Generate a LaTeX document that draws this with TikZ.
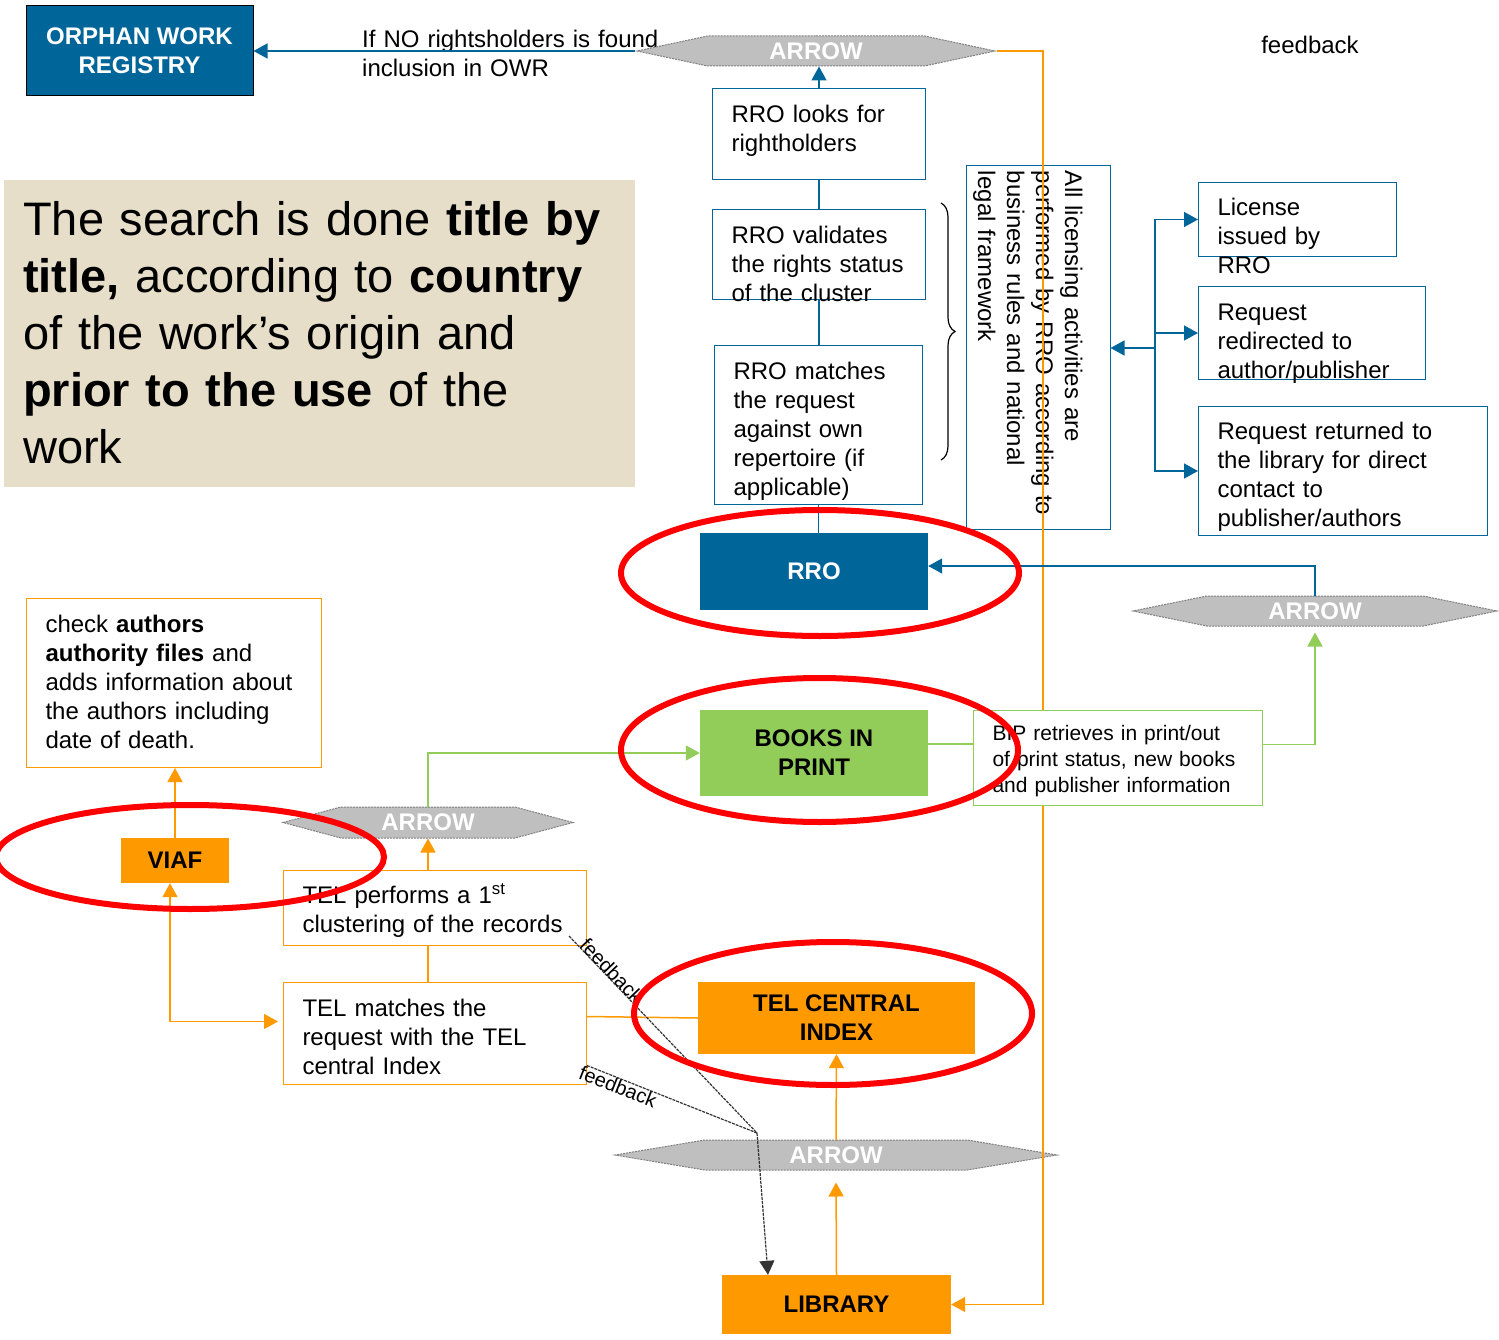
\documentclass[tikz,border=0pt]{standalone}
\usepackage{fontspec}
\setmainfont{Liberation Sans}
\usetikzlibrary{shapes.symbols, positioning, calc, arrows.meta, decorations.pathreplacing}

\definecolor{rroblue}{RGB}{0,101,153}
\definecolor{telorange}{RGB}{255,153,0}
\definecolor{bipgreen}{RGB}{146,205,90}
\definecolor{hexgray}{RGB}{191,191,191}
\definecolor{notebeige}{RGB}{230,222,200}

\begin{document}
\begin{tikzpicture}[x=1pt, y=-1pt]
  \newcommand\boxtextsize{\fontsize{24}{29}\selectfont}
  \newcommand\hexheight{30pt}

  \tikzset{txt/.style={font=\boxtextsize, inner ysep=0pt, inner xsep=19pt, align=left, anchor=north west}}
  \tikzset{bluebox/.style={txt, draw=rroblue, line width=1pt}}
  \tikzset{orangebox/.style={txt, draw=telorange, line width=1pt}}
  \tikzset{greenbox/.style={txt, draw=bipgreen, line width=1pt, fill=white, font=\fontsize{21}{26}\selectfont}}
  \tikzset{solidbox/.style={font=\bfseries\boxtextsize, align=center, inner sep=0pt}}
  \tikzset{hexarrow/.style={signal, signal to=east and west, fill=hexgray, draw=black!50, line width=1pt, dash pattern=on 2pt off 1pt, text=white, font=\bfseries\boxtextsize, inner sep=0pt, minimum height=\hexheight}}
  \tikzset{blueline/.style={draw=rroblue, line width=1.5pt}}
  \tikzset{orangeline/.style={draw=telorange, line width=1.5pt}}
  \tikzset{greenline/.style={draw=bipgreen, line width=1.5pt}}
  \tikzset{fbline/.style={draw=black!80, line width=1.2pt, dash pattern=on 3pt off 1pt}}
  \tikzset{fbtext/.style={font=\fontsize{20}{24}\selectfont, sloped, inner sep=0pt}}
  \tikzset{tipto/.style={-{Triangle[width=15pt, length=14pt]}}}
  \tikzset{tipboth/.style={{Triangle[width=15pt, length=14pt]}-{Triangle[width=15pt, length=14pt]}}}
  \tikzset{redring/.style={draw=red, line width=6pt}}

  \useasboundingbox (0,0) rectangle (1499,1340);

  % left note and orphan work registry
  \node[txt, fill=notebeige, text width=593pt, text height=55pt, text depth=252pt, font=\fontsize{47}{57}\selectfont] (note) at (4,180) {The search is done \textbf{title by}\\\textbf{title,} according to \textbf{country}\\of the work’s origin and\\\textbf{prior to the use} of the\\work};
  \node[solidbox, fill=rroblue, draw=black, line width=1pt, text=white, minimum width=227pt, minimum height=90pt] (owr) at (139.5,51) {ORPHAN WORK\\REGISTRY};
  \node[font=\boxtextsize, text width=300pt, align=left, inner sep=0pt, anchor=base west] (owrnote) at (362,48) {If NO rightsholders is found\\inclusion in OWR};
  \node[font=\boxtextsize] (fbnote) at (1310,45) {feedback};

  % RRO column
  \node[hexarrow, signal pointer angle=24, minimum width=358pt] (hextop) at (816,51) {ARROW};
  \node[bluebox, text width=175pt, text height=34pt, text depth=57pt] (looks) at (712,88) {RRO looks for\\rightholders};
  \node[bluebox, text width=175pt, text height=34pt, text depth=56pt] (validates) at (712,209) {RRO validates\\the rights status\\of the cluster};
  \node[bluebox, text width=170pt, text height=34pt, text depth=125pt] (matches) at (714,345) {RRO matches\\the request\\against own\\repertoire (if\\applicable)};
  \node[bluebox, rotate=-90, anchor=center, inner xsep=5pt, text width=353pt, text height=45pt, text depth=99pt] (allrules) at (1038,347.5) {All licensing activities are\\performed by RRO according to\\business rules and national\\legal framework};
  \draw[decorate, decoration={brace, amplitude=14pt}, line width=1.2pt] (941,203) -- (941,460);
  \node[solidbox, fill=rroblue, text=white, minimum width=228pt, minimum height=77pt] (rro) at (814,571.5) {RRO};

  \node[bluebox, text width=160pt, text height=33pt, text depth=41pt] (license) at (1198,182) {License\\issued by\\RRO};
  \node[bluebox, text width=189pt, text height=34pt, text depth=59pt] (redirect) at (1198,286) {Request\\redirected to\\author/publisher};
  \node[bluebox, text width=251pt, text height=33pt, text depth=96pt] (returned) at (1198,406) {Request returned to\\the library for direct\\contact to\\publisher/authors};
  \node[hexarrow, signal pointer angle=23, minimum width=364pt] (hexright) at (1315,611) {ARROW};

  % TEL and library
  \node[orangebox, text width=257pt, text height=34pt, text depth=135pt] (authors) at (26,598) {check \textbf{authors}\\\textbf{authority files} and\\adds information about\\the authors including\\date of death.};
  \node[solidbox, fill=telorange, minimum width=108pt, minimum height=45pt] (viaf) at (175,860.5) {VIAF};
  \node[hexarrow, signal pointer angle=30, minimum width=290pt, minimum height=31pt] (hexmid) at (428,822.5) {ARROW};
  \node[orangebox, text width=265pt, text height=33pt, text depth=42pt] (cluster) at (283,870) {TEL performs a 1\textsuperscript{st}\\clustering of the records};
  \node[orangebox, text width=265pt, text height=34pt, text depth=68pt] (telmatch) at (283,982) {TEL matches the\\request with the TEL\\central Index};
  \node[solidbox, fill=telorange, minimum width=277pt, minimum height=72pt] (telindex) at (836.5,1018) {TEL CENTRAL\\INDEX};
  \node[hexarrow, signal pointer angle=19, minimum width=442pt] (hexbottom) at (836,1155) {ARROW};
  \node[solidbox, fill=telorange, minimum width=229pt, minimum height=59pt] (library) at (836.5,1304.5) {LIBRARY};

  \coordinate (rightrail) at (1043,0);
  \draw[orangeline, tipto] (hextop.east) -| (rightrail |- library.east) -- (library.east);

  \node[greenbox, text width=251pt, text height=30pt, text depth=65pt] (bip) at (973,710) {BIP retrieves in print/out\\of print status, new books\\and publisher information};
  \node[solidbox, fill=bipgreen, minimum width=228pt, minimum height=86pt] (books) at (814,753) {BOOKS IN\\PRINT};

  % blue connectors
  \draw[blueline, tipto] (hextop.west) -- (owr.east);
  \draw[blueline, tipto] (looks.north) -- (looks.north |- hextop.south);
  \draw[blueline] (looks.south) -- (validates.north);
  \draw[blueline] (validates.south) -- (validates.south |- matches.north);
  \draw[blueline] (matches.south) -- (matches.south |- rro.north);
  \coordinate (fork) at (1155,348);
  \draw[blueline, tipto] (fork) -- (fork -| allrules.north);
  \draw[blueline, tipto] (fork) |- (license.west);
  \draw[blueline, tipto] (fork) |- (redirect.west);
  \draw[blueline, tipto] (fork) |- (returned.west);
  \draw[blueline, tipto] (hexright.north) |- ([yshift=5.5pt]rro.east);

  % green connectors
  \draw[greenline] ([yshift=9pt]books.east) -- ([yshift=9pt]books.east -| bip.west);
  \draw[greenline, tipto, shorten >=6pt] ([yshift=13.5pt]bip.east) -| (hexright.south);
  \draw[greenline, tipto] (hexmid.north) |- (books.west);

  % orange connectors
  \draw[orangeline, tipto] (viaf.north) -- (viaf.north |- authors.south);
  \draw[orangeline, tipboth, shorten >=5pt] ([xshift=-5pt]viaf.south) |- ([yshift=12pt]telmatch.west);
  \draw[orangeline, tipto] (hexmid.south |- cluster.north) -- (hexmid.south);
  \draw[orangeline] (hexmid.south |- cluster.south) -- (hexmid.south |- telmatch.north);
  \draw[orangeline] ([yshift=17pt]telmatch.east) -- (telindex.west);
  \draw[orangeline, tipto] (hexbottom.north) -- (telindex.south);
  \draw[orangeline, tipto, shorten >=12pt] (library.north) -- (hexbottom.south);

  % feedback
  \coordinate (fbjoin) at (757,1133);
  \draw[fbline] ([xshift=-18pt, yshift=10pt]cluster.south east) -- node[fbtext, pos=0.2, anchor=base] {feedback} (fbjoin);
  \draw[fbline] ([yshift=-32pt]telmatch.east) -- node[fbtext, pos=0.2, anchor=north] {feedback} (fbjoin);
  \draw[fbline, tipto] (fbjoin) -- ([xshift=-68.5pt]library.north);

  % red rings
  \draw[redring] (820,573) ellipse [x radius=199pt, y radius=63pt];
  \draw[redring] (819.5,750) ellipse [x radius=198.5pt, y radius=72pt];
  \draw[redring] (190,857) ellipse [x radius=194pt, y radius=52pt];
  \draw[redring] (833,1013.5) ellipse [x radius=199pt, y radius=71.5pt];
\end{tikzpicture}
\end{document}
